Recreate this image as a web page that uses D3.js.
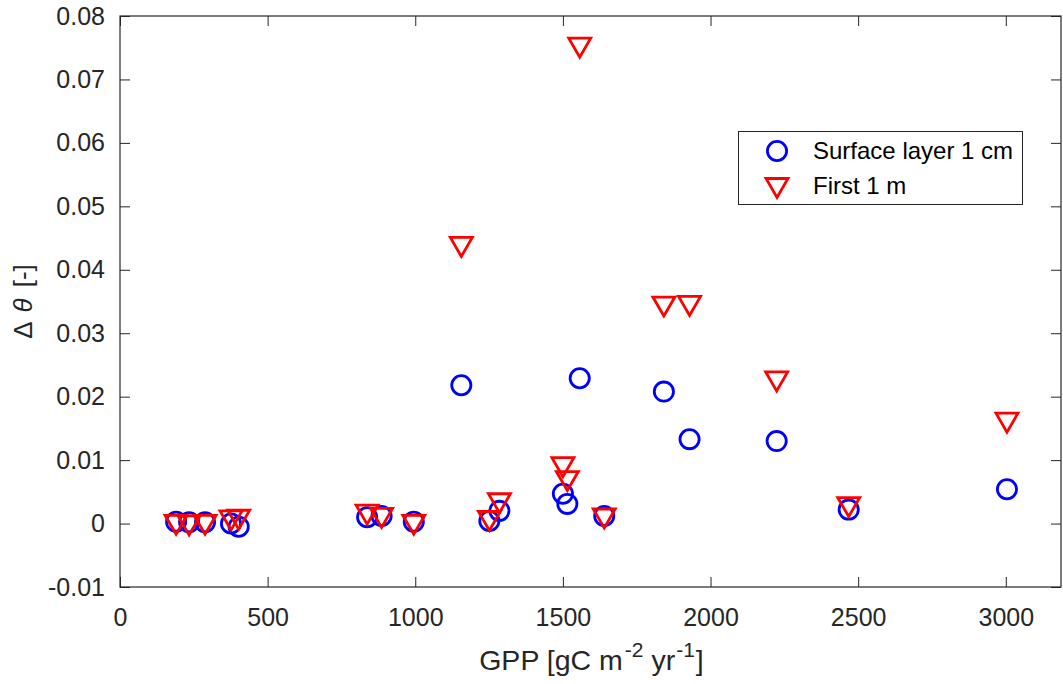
<!DOCTYPE html>
<html>
<head>
<meta charset="utf-8">
<script src="https://cdn.jsdelivr.net/npm/d3@7"></script>
<style>
  html, body { margin: 0; padding: 0; background: #fff; }
  svg { display: block; font-family: "Liberation Sans", Arial, Helvetica, sans-serif; }
</style>
</head>
<body>
<svg id="chart" width="1063" height="684"></svg>
<script>
// GPP of each site [gC m-2 yr-1]
const gpp = [190, 234, 288, 376, 402, 837, 886, 995, 1251, 1285,
             1500, 1515, 1640, 1156, 1557, 1842, 1929, 2224, 2468, 3004];
// change in soil moisture, surface layer (1 cm)
const surface = [0.0003, 0.0002, 0.0002, 0.0000, -0.0005, 0.0010, 0.0012, 0.0003, 0.0004, 0.0020,
                 0.0047, 0.0031, 0.0012, 0.0218, 0.0229, 0.0208, 0.0133, 0.0130, 0.0022, 0.0054];
// change in soil moisture, first 1 m
const firstMetre = [-0.0002, -0.0003, -0.0002, 0.0005, 0.0006, 0.0014, 0.0009, -0.0002, 0.0004, 0.0032,
                    0.0089, 0.0067, 0.0008, 0.0436, 0.0750, 0.0342, 0.0343, 0.0224, 0.0026, 0.0159];

const xTicks = [0, 500, 1000, 1500, 2000, 2500, 3000];
const xTickLabels = ["0", "500", "1000", "1500", "2000", "2500", "3000"];
const yTicks = [-0.01, 0, 0.01, 0.02, 0.03, 0.04, 0.05, 0.06, 0.07, 0.08];
const yTickLabels = ["-0.01", "0", "0.01", "0.02", "0.03", "0.04", "0.05", "0.06", "0.07", "0.08"];
const seriesNames = ["Surface layer 1 cm", "First 1 m"];

const svg = d3.select("#chart");
const plotL = 120, plotR = 1061, plotT = 16, plotB = 587;
const axisColor = "#262626";

const x = d3.scaleLinear().domain([0, 3187]).range([plotL, plotR]);
const y = d3.scaleLinear().domain([-0.01, 0.08]).range([plotB, plotT]);

const xFmt = d => xTickLabels[xTicks.indexOf(d)];
const yFmt = d => yTickLabels[yTicks.indexOf(d)];

function styleAxis(g) {
  g.select(".domain").remove();
  g.selectAll(".tick line").attr("stroke", axisColor).attr("stroke-width", 1);
  g.selectAll(".tick text").attr("fill", axisColor).attr("font-size", 25);
}

// bottom and top axes (ticks pointing inward)
svg.append("g").attr("transform", `translate(0,${plotB})`)
  .call(d3.axisBottom(x).tickValues(xTicks).tickFormat(xFmt).tickSizeInner(-10).tickSizeOuter(0).tickPadding(21))
  .call(styleAxis);
svg.append("g").attr("transform", `translate(0,${plotT})`)
  .call(d3.axisTop(x).tickValues(xTicks).tickFormat("").tickSizeInner(-10).tickSizeOuter(0))
  .call(styleAxis);
// left and right axes
svg.append("g").attr("transform", `translate(${plotL},0)`)
  .call(d3.axisLeft(y).tickValues(yTicks).tickFormat(yFmt).tickSizeInner(-10).tickSizeOuter(0).tickPadding(15))
  .call(styleAxis);
svg.append("g").attr("transform", `translate(${plotR},0)`)
  .call(d3.axisRight(y).tickValues(yTicks).tickFormat("").tickSizeInner(-10).tickSizeOuter(0))
  .call(styleAxis);

// axes box
svg.append("rect")
  .attr("x", plotL).attr("y", plotT)
  .attr("width", plotR - plotL).attr("height", plotB - plotT)
  .attr("fill", "none").attr("stroke", axisColor).attr("stroke-width", 1.2);

// downward triangle marker path centred on its bounding box
const tri = "M-11,-9.5L11,-9.5L0,9.5Z";

const pts = gpp.map((g, i) => ({ g, s: surface[i], f: firstMetre[i] }));

// surface layer: blue open circles
svg.append("g").selectAll("circle").data(pts).join("circle")
  .attr("cx", d => x(d.g)).attr("cy", d => y(d.s)).attr("r", 9.6)
  .attr("fill", "none").attr("stroke", "#0000ff").attr("stroke-width", 2.8);

// first 1 m: red open downward triangles
svg.append("g").selectAll("path").data(pts).join("path")
  .attr("d", tri)
  .attr("transform", d => `translate(${x(d.g)},${y(d.f)})`)
  .attr("fill", "none").attr("stroke", "#ff0000").attr("stroke-width", 2.8)
  .attr("stroke-linejoin", "miter");

// legend
const lg = svg.append("g");
lg.append("rect").attr("x", 738.5).attr("y", 131.5).attr("width", 284).attr("height", 73)
  .attr("fill", "#fff").attr("stroke", axisColor).attr("stroke-width", 1);
lg.append("circle").attr("cx", 777).attr("cy", 151).attr("r", 9.6)
  .attr("fill", "none").attr("stroke", "#0000ff").attr("stroke-width", 2.8);
lg.append("path").attr("d", tri).attr("transform", "translate(777,188)")
  .attr("fill", "none").attr("stroke", "#ff0000").attr("stroke-width", 2.8);
lg.selectAll("text").data(seriesNames).join("text")
  .attr("x", 813).attr("y", (d, i) => 159 + i * 35)
  .attr("font-size", 24).attr("fill", "#000").text(d => d);

// x label with superscripts
const xl = svg.append("text")
  .attr("x", (plotL + plotR) / 2 + 1).attr("y", 670)
  .attr("text-anchor", "middle").attr("font-size", 28.5).attr("fill", axisColor);
xl.append("tspan").text("GPP [gC m");
xl.append("tspan").attr("font-size", 21).attr("dy", -13).attr("dx", 2).text("-2");
xl.append("tspan").attr("dy", 13).text(" yr");
xl.append("tspan").attr("font-size", 21).attr("dy", -13).attr("dx", 1).text("-1");
xl.append("tspan").attr("dy", 13).attr("dx", 1).text("]");

// y label
const yl = svg.append("text")
  .attr("transform", `translate(32,${(plotT + plotB) / 2}) rotate(-90)`)
  .attr("text-anchor", "middle").attr("font-size", 26).attr("fill", axisColor);
yl.append("tspan").text("\u0394");
yl.append("tspan").attr("dx", 9).attr("font-style", "italic").text("\u03b8");
yl.append("tspan").attr("dx", 11).text("[-]");
</script>
</body>
</html>
